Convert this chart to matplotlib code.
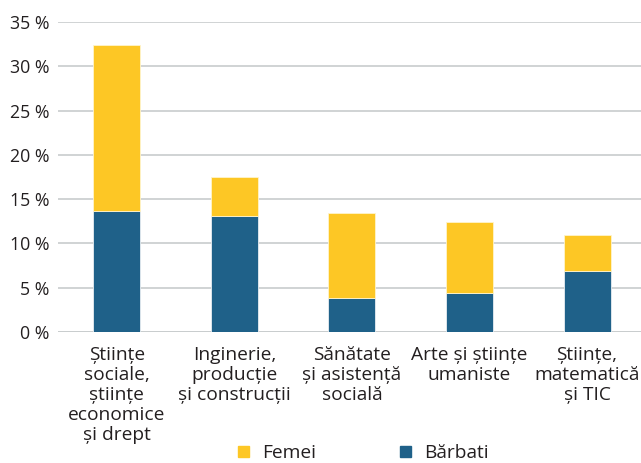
import matplotlib
matplotlib.use("Agg")
import matplotlib.pyplot as plt
from matplotlib.patches import Patch
import numpy as np

categories = ["Științe\nsociale,\nștiințe\neconomice\nși drept",
              "Inginerie,\nproducție\nși construcții",
              "Sănătate\nși asistență\nsocială",
              "Arte și științe\numaniste",
              "Științe,\nmatematică\nși TIC"]
barbati = [13.7, 13.1, 3.8, 4.4, 6.9]
femei = [18.7, 4.4, 9.6, 8.0, 4.1]
yticks = [0, 5, 10, 15, 20, 25, 30, 35]

plt.rcParams['font.family'] = ['Open Sans', 'DejaVu Sans']
c_f = "#FDC725"
c_b = "#1F6189"

fig = plt.figure(figsize=(6.41, 4.63), dpi=100)
ax = fig.add_axes([0.0905, 0.283, 0.917, 0.6695])
x = np.arange(len(categories))
ax.bar(x, barbati, width=0.4, color=c_b, edgecolor="#e8eef2", linewidth=0.6, zorder=3)
ax.bar(x, femei, width=0.4, bottom=barbati, color=c_f, edgecolor="#fff4cc", linewidth=0.6, zorder=3)
ax.set_xlim(-0.5, 4.5)
ax.set_ylim(0, 35)
ax.set_yticks(yticks)
ax.set_yticklabels([f"{v} %" for v in yticks], fontsize=12.8, color="#231f20")
ax.yaxis.grid(True, color="#c8cccd", linewidth=1.2, zorder=0)
ax.set_axisbelow(True)
for s in ax.spines.values():
    s.set_visible(False)
ax.tick_params(axis="y", length=0, pad=6)
ax.tick_params(axis="x", length=0, pad=10)
ax.set_xticks(x)
ax.set_xticklabels(categories, fontsize=13.8, color="#231f20", linespacing=1.14, va="top")
ax.axhline(0, color="#c8cccd", linewidth=1.2, zorder=1)

handles = [Patch(color=c_f, label="Femei"), Patch(color=c_b, label="Bărbati")]
fig.legend(handles=handles, loc="center", bbox_to_anchor=(0.567, 0.021), ncol=2,
           frameon=False, fontsize=13.8, handlelength=0.55, handleheight=0.55,
           handletextpad=0.7, columnspacing=4.4, labelcolor="#231f20",
           borderpad=0.1)
fig.savefig("out.png", dpi=100)
